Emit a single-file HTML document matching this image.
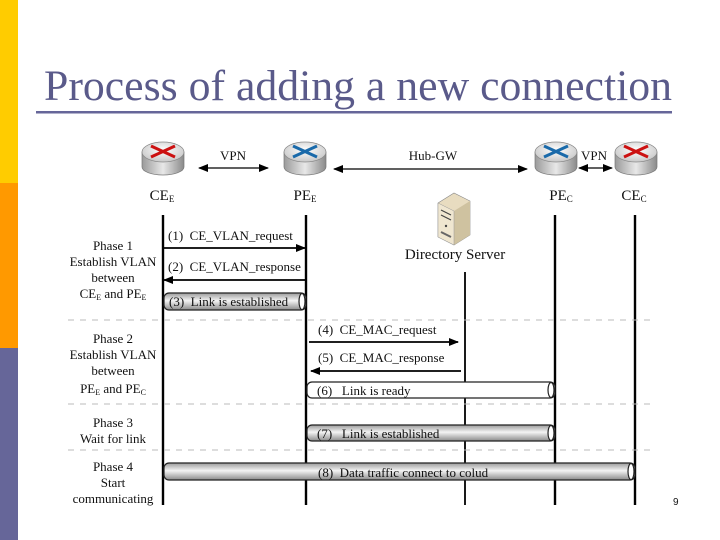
<!DOCTYPE html>
<html><head><meta charset="utf-8"><style>
html,body{margin:0;padding:0;background:#fff}
svg{display:block}
text{white-space:pre}
</style></head><body>
<svg width="720" height="540" viewBox="0 0 720 540" xmlns="http://www.w3.org/2000/svg" font-family="Liberation Serif, serif">
<defs>
<linearGradient id="pipe" x1="0" y1="0" x2="0" y2="1">
<stop offset="0" stop-color="#9a9a9a"/><stop offset="0.45" stop-color="#f4f4f4"/><stop offset="1" stop-color="#8a8a8a"/>
</linearGradient>
<linearGradient id="body" x1="0" y1="0" x2="1" y2="0">
<stop offset="0" stop-color="#9a9a9a"/><stop offset="0.5" stop-color="#e8e8e8"/><stop offset="1" stop-color="#8a8a8a"/>
</linearGradient>
<radialGradient id="top" cx="0.5" cy="0.4" r="0.6">
<stop offset="0" stop-color="#ffffff"/><stop offset="1" stop-color="#c8c8c8"/>
</radialGradient>
<marker id="ah" markerWidth="10" markerHeight="8" refX="9" refY="4" orient="auto" markerUnits="userSpaceOnUse">
<path d="M0,0 L10,4 L0,8 z" fill="#000"/></marker>
<marker id="ahs" markerWidth="10" markerHeight="8" refX="1" refY="4" orient="auto" markerUnits="userSpaceOnUse">
<path d="M10,0 L0,4 L10,8 z" fill="#000"/></marker>
<g id="router">
<path d="M-21,-6 L-21,9 A21,8 0 0 0 21,9 L21,-6 z" fill="url(#body)" stroke="#777" stroke-width="0.7"/>
<ellipse cx="0" cy="-6" rx="21" ry="10" fill="url(#top)" stroke="#888" stroke-width="0.7"/>
</g>
</defs>
<rect x="0" y="0" width="18" height="183" fill="#ffcc00"/>
<rect x="0" y="183" width="18" height="165" fill="#ff9900"/>
<rect x="0" y="348" width="18" height="192" fill="#666699"/>
<text x="358" y="100" font-size="43" fill="#5a5a8a" text-anchor="middle" textLength="628" lengthAdjust="spacingAndGlyphs">Process of adding a new connection</text>
<rect x="36" y="111" width="636" height="2.5" fill="#666699"/>

<g transform="translate(163,158)"><use href="#router"/><g stroke="#cc1111" stroke-width="3" fill="none"><path d="M-12,-12 L12,-1 M12,-12 L-12,-1"/></g></g>
<g transform="translate(305,158)"><use href="#router"/><g stroke="#1a6aaa" stroke-width="3" fill="none"><path d="M-12,-12 L12,-1 M12,-12 L-12,-1"/></g></g>
<g transform="translate(556,158)"><use href="#router"/><g stroke="#1a6aaa" stroke-width="3" fill="none"><path d="M-12,-12 L12,-1 M12,-12 L-12,-1"/></g></g>
<g transform="translate(636,158)"><use href="#router"/><g stroke="#cc1111" stroke-width="3" fill="none"><path d="M-12,-12 L12,-1 M12,-12 L-12,-1"/></g></g>

<g font-size="13" fill="#111">
<text x="233" y="160" text-anchor="middle">VPN</text>
<text x="433" y="160" text-anchor="middle">Hub-GW</text>
<text x="594" y="160" text-anchor="middle">VPN</text>
<text x="162" y="200" font-size="15" text-anchor="middle">CE<tspan font-size="9" dy="2">E</tspan></text>
<text x="305" y="200" font-size="15" text-anchor="middle">PE<tspan font-size="9" dy="2">E</tspan></text>
<text x="561" y="200" font-size="15" text-anchor="middle">PE<tspan font-size="9" dy="2">C</tspan></text>
<text x="634" y="200" font-size="15" text-anchor="middle">CE<tspan font-size="9" dy="2">C</tspan></text>
<text x="455" y="259" font-size="15" text-anchor="middle">Directory Server</text>
</g>
<g stroke="#000" stroke-width="1.2">
<line x1="199" y1="168" x2="268" y2="168" marker-start="url(#ahs)" marker-end="url(#ah)"/>
<line x1="334" y1="169" x2="527" y2="169" marker-start="url(#ahs)" marker-end="url(#ah)"/>
<line x1="579" y1="168" x2="612" y2="168" marker-start="url(#ahs)" marker-end="url(#ah)"/>
</g>

<g transform="translate(438,193)">
<path d="M0,10 L16,0 L32,8 L32,42 L16,52 L0,44 z" fill="#e8dcc0" stroke="#888" stroke-width="0.6"/>
<path d="M16,18 L32,8 L32,42 L16,52 z" fill="#cfc2a0"/>
<path d="M0,10 L16,18 L16,52 L0,44 z" fill="#efe6d0" stroke="#999" stroke-width="0.5"/>
<path d="M3,17 L13,22 M3,22 L13,27" stroke="#444" stroke-width="1.2"/>
<circle cx="8" cy="33" r="1.2" fill="#444"/>
<path d="M3,39 L13,44" stroke="#666" stroke-width="2"/>
</g>

<g stroke="#000" stroke-width="2.4">
<line x1="163" y1="215" x2="163" y2="505"/>
<line x1="306" y1="215" x2="306" y2="505"/>
<line x1="465" y1="272" x2="465" y2="505" stroke-width="1.8"/>
<line x1="555" y1="215" x2="555" y2="505"/>
<line x1="635" y1="215" x2="635" y2="505"/>
</g>

<g stroke="#bbb" stroke-width="1" stroke-dasharray="6,6">
<line x1="68" y1="320" x2="650" y2="320"/>
<line x1="68" y1="404" x2="650" y2="404"/>
<line x1="68" y1="450" x2="650" y2="450"/>
</g>

<g font-size="13" fill="#111" text-anchor="middle">
<text x="113" y="250">Phase 1</text>
<text x="113" y="266">Establish VLAN</text>
<text x="113" y="282">between</text>
<text x="113" y="298">CE<tspan font-size="8" dy="2">E</tspan><tspan dy="-2"> and PE</tspan><tspan font-size="8" dy="2">E</tspan></text>
<text x="113" y="343">Phase 2</text>
<text x="113" y="359">Establish VLAN</text>
<text x="113" y="375">between</text>
<text x="113" y="393">PE<tspan font-size="8" dy="2">E</tspan><tspan dy="-2"> and PE</tspan><tspan font-size="8" dy="2">C</tspan></text>
<text x="113" y="427">Phase 3</text>
<text x="113" y="443">Wait for link</text>
<text x="113" y="471">Phase 4</text>
<text x="113" y="487">Start</text>
<text x="113" y="503">communicating</text>
</g>

<g stroke="#000" stroke-width="1.8">
<line x1="164" y1="248" x2="305" y2="248" marker-end="url(#ah)"/>
<line x1="305" y1="280" x2="164" y2="280" marker-end="url(#ah)"/>
<line x1="309" y1="342" x2="458" y2="342" marker-end="url(#ah)"/>
<line x1="461" y1="371" x2="311" y2="371" marker-end="url(#ah)"/>
</g>
<g font-size="13" fill="#111">
<text x="168" y="240">(1)  CE_VLAN_request</text>
<text x="168" y="271">(2)  CE_VLAN_response</text>
<text x="318" y="334">(4)  CE_MAC_request</text>
<text x="318" y="362">(5)  CE_MAC_response</text>
</g>

<g stroke="#222" stroke-width="1.2">
<rect x="164" y="293" width="142" height="17" rx="5" fill="url(#pipe)"/>
<ellipse cx="302" cy="301.5" rx="3" ry="8" fill="#fff"/>
<rect x="307" y="382" width="248" height="16" rx="5" fill="#fff"/>
<ellipse cx="551" cy="390" rx="3" ry="7.5" fill="#fff"/>
<rect x="307" y="425" width="248" height="16" rx="5" fill="url(#pipe)"/>
<ellipse cx="551" cy="433" rx="3" ry="7.5" fill="#fff"/>
<rect x="164" y="463" width="471" height="17" rx="5" fill="url(#pipe)"/>
<ellipse cx="631" cy="471.5" rx="3" ry="8" fill="#fff"/>
</g>
<g font-size="13" fill="#111">
<text x="169" y="306">(3)  Link is established</text>
<text x="317" y="395">(6)   Link is ready</text>
<text x="317" y="438">(7)   Link is established</text>
<text x="318" y="477">(8)  Data traffic connect to colud</text>
</g>

<text x="673" y="505" font-size="10" font-family="Liberation Sans, sans-serif" fill="#111">9</text>
</svg>
</body></html>
